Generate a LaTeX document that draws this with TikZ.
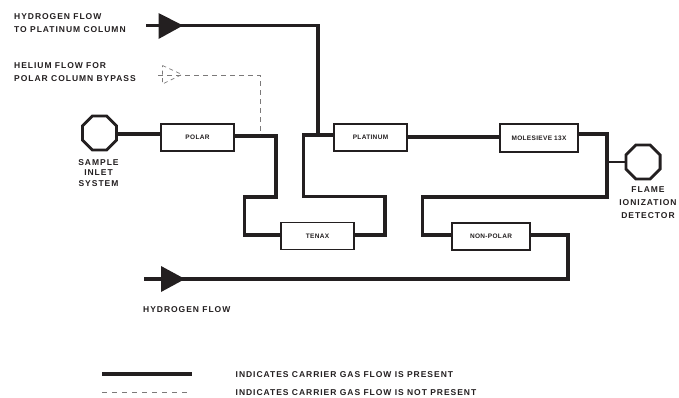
\documentclass[tikz,border=0pt]{standalone}
\usepackage{fontspec}
\setmainfont{Liberation Sans}
\newfontfamily\boxfont[LetterSpace=5]{Liberation Sans Bold}
\newfontfamily\lblfont[LetterSpace=11.4]{Liberation Sans Bold}
\usetikzlibrary{shapes.geometric,calc}
\definecolor{ink}{HTML}{231F20}
\tikzset{
  column/.style={draw=ink,line width=1.3pt,minimum height=27pt,inner sep=0pt,font=\boxfont\fontsize{6.5}{7}\selectfont,text=ink},
  port/.style={draw=ink,line width=2.8pt,fill=white,regular polygon,regular polygon sides=8,minimum size=37pt,inner sep=0pt},
  label/.style={font=\lblfont\fontsize{8.5}{13}\selectfont,text=ink,inner sep=0pt,align=left,anchor=west},
  clabel/.style={font=\lblfont\fontsize{8.5}{10.3}\selectfont,text=ink,inner sep=0pt,align=center,anchor=north},
  flow/.style={draw=ink,line width=3.4pt,line join=miter},
  thinflow/.style={draw=ink,line width=2.2pt},
  noflow/.style={draw=ink!60,line width=0.7pt,dash pattern=on 5pt off 4pt},
  head/.style={fill=ink,draw=none},
}
\begin{document}
\begin{tikzpicture}[x=1pt,y=-1pt]
\useasboundingbox (0,0) rectangle (679,397);
% columns
\node[column,minimum width=73pt] (polar) at (197.5,137.5) {POLAR};
\node[column,minimum width=73pt] (tenax) at (317.5,236) {TENAX};
\node[column,minimum width=73pt] (plat) at (370.5,137.5) {PLATINUM};
\node[column,minimum width=78pt,minimum height=28pt] (mole) at (539,138) {MOLESIEVE 13X};
\node[column,minimum width=78pt] (nonpolar) at (491,236.5) {NON-POLAR};
% ports
\node[port] (inlet) at (99.5,133) {};
\node[port] (fid) at (643,162) {};
% free ends and corners
\coordinate (h1s) at (146,25.5);
\coordinate (h1c) at (318,25.5);
\coordinate (h1j) at (318,135);
\coordinate (h2s) at (144,279);
\coordinate (he) at (158,75);
\coordinate (hec) at (260,75);
\coordinate (hej) at (260,135);
% solid flow
\draw[flow] (inlet.east |- 0,134) -- (polar.west |- 0,134);
\draw[flow] (polar.east |- 0,136) -- (276,136) -- (276,197) -- (244.5,197) -- (244.5,235) -- (tenax.west |- 0,235);
\draw[flow] (tenax.east |- 0,235) -- (385,235) -- (385,196.5) -- (303.5,196.5) -- (303.5,135) -- (plat.west |- 0,135);
\draw[flow] (h1s) -- (h1c) -- (h1j);
\draw[flow] (plat.east |- 0,137) -- (mole.west |- 0,137);
\draw[flow] (mole.east |- 0,134) -- (607,134) -- (607,197) -- (422.5,197) -- (422.5,235) -- (nonpolar.west |- 0,235);
\draw[thinflow] (607,162) -- (fid.west);
\draw[flow] (nonpolar.east |- 0,235) -- (568,235) -- (568,279) -- (h2s);
% arrowheads
\fill[head] (158.5,13) -- (183,25.5) -- (158.5,39) -- cycle;
\fill[head] (161,266) -- (185,279) -- (161,292) -- cycle;
% helium
\draw[noflow] (he) -- (hec) -- (hej);
\draw[noflow,dash pattern=on 4pt off 3.5pt] (162.5,65.5) -- (182,74.5) -- (162.5,84) -- cycle;
% labels
\node[label] at (14,23.5) {HYDROGEN FLOW\\TO PLATINUM COLUMN};
\node[label] at (14,72.5) {HELIUM FLOW FOR\\POLAR COLUMN BYPASS};
\node[clabel] at (98.5,159.5) {SAMPLE\\INLET\\SYSTEM};
\node[clabel,font=\lblfont\fontsize{8.5}{13.2}\selectfont] at (648,186.5) {FLAME\\IONIZATION\\DETECTOR};
\node[label] at (143,310) {HYDROGEN FLOW};
% legend
\coordinate (l1a) at (102,374); \coordinate (l1b) at (192,374);
\coordinate (l2a) at (102,392); \coordinate (l2b) at (192,392);
\draw[draw=ink,line width=4pt] (l1a) -- (l1b);
\draw[noflow,dash pattern=on 4.5pt off 5.5pt] (l2a) -- (l2b);
\node[label] at (235.5,375) {INDICATES CARRIER GAS FLOW IS PRESENT};
\node[label] at (235.5,393) {INDICATES CARRIER GAS FLOW IS NOT PRESENT};
\end{tikzpicture}
\end{document}
